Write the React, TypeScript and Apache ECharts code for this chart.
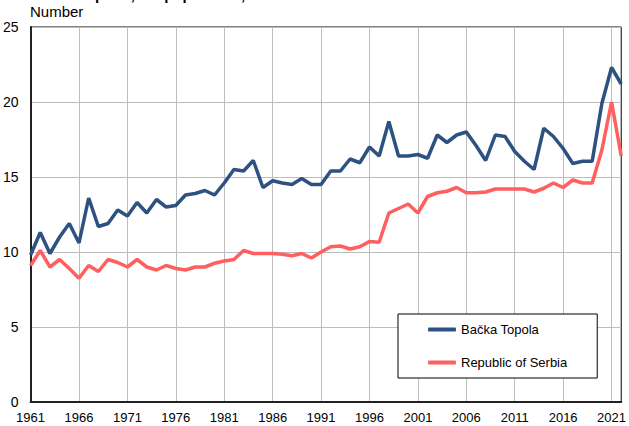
import React, { useEffect, useRef } from "react";
import * as echarts from "echarts";

const years: string[] = [];
for (let y = 1961; y <= 2022; y++) years.push(String(y));

const backaTopola = [
  9.8, 11.3, 9.9, 11.0, 11.9, 10.6, 13.6, 11.7, 11.9, 12.8,
  12.4, 13.3, 12.6, 13.5, 13.0, 13.1, 13.8, 13.9, 14.1, 13.8,
  14.6, 15.5, 15.4, 16.1, 14.3, 14.75, 14.6, 14.5, 14.9, 14.5,
  14.5, 15.4, 15.4, 16.2, 15.95, 17.0, 16.4, 18.7, 16.4, 16.4,
  16.5, 16.25, 17.8, 17.3, 17.8, 18.0, 17.1, 16.1, 17.8, 17.7,
  16.7, 16.05, 15.5, 18.25, 17.7, 16.9, 15.9, 16.05, 16.05, 19.9,
  22.3, 21.2,
];

const serbia = [
  9.1, 10.1, 9.0, 9.5, 8.9, 8.25, 9.1, 8.7, 9.5, 9.3,
  9.0, 9.5, 9.0, 8.8, 9.1, 8.9, 8.8, 9.0, 9.0, 9.25,
  9.4, 9.5, 10.1, 9.9, 9.9, 9.9, 9.85, 9.75, 9.9, 9.6,
  10.0, 10.35, 10.4, 10.2, 10.35, 10.7, 10.65, 12.6, 12.9, 13.2,
  12.6, 13.7, 13.95, 14.05, 14.3, 13.95, 13.95, 14.0, 14.2, 14.2,
  14.2, 14.2, 14.0, 14.25, 14.6, 14.3, 14.8, 14.6, 14.6, 16.8,
  20.0, 16.4,
];

const seriesNames = ["Bačka Topola", "Republic of Serbia"];
const titleText = "Live births per 1,000 population, 1961–2022";
const yUnit = "Number";

const FONT = "'Liberation Sans', Arial, sans-serif";

export default function App() {
  const ref = useRef<HTMLDivElement>(null);
  useEffect(() => {
    if (!ref.current) return;
    const chart = echarts.init(ref.current, null, { renderer: "svg" });
    chart.setOption({
      animation: false,
      backgroundColor: "#ffffff",
      textStyle: { fontFamily: FONT },
      graphic: [
        {
          type: "text",
          left: 15,
          top: -13,
          style: {
            text: titleText,
            font: "bold 15px " + FONT,
            fill: "#000",
          },
        },
        {
          type: "text",
          left: 30,
          top: 4,
          style: { text: yUnit, font: "15px " + FONT, fill: "#000" },
        },
      ],
      grid: {
        left: 30,
        right: 3,
        top: 27,
        bottom: 24,
        show: true,
        borderColor: "#000",
        borderWidth: 1,
        containLabel: false,
      },
      legend: {
        orient: "vertical",
        left: 398,
        top: 314,
        padding: [9, 30, 9, 30],
        itemGap: 20,
        itemWidth: 28,
        itemHeight: 4,
        icon: "roundRect",
        backgroundColor: "#fff",
        borderColor: "#000",
        borderWidth: 1,
        textStyle: { fontFamily: FONT, fontSize: 13, color: "#000" },
        data: seriesNames,
      },
      xAxis: {
        type: "category",
        data: years,
        boundaryGap: false,
        axisLine: { show: true, lineStyle: { color: "#222", width: 2 } },
        axisTick: { show: false },
        axisLabel: {
          interval: 4,
          color: "#000",
          fontSize: 13,
          fontFamily: FONT,
          margin: 9,
        },
        splitLine: {
          show: true,
          interval: 4,
          lineStyle: { color: "#bdbdbd", width: 1 },
        },
      },
      yAxis: {
        type: "value",
        min: 0,
        max: 25,
        interval: 5,
        axisLine: { show: true, lineStyle: { color: "#222", width: 2 } },
        axisTick: { show: false },
        axisLabel: { color: "#000", fontSize: 14, fontFamily: FONT, margin: 12 },
        splitLine: { show: true, lineStyle: { color: "#bdbdbd", width: 1 } },
      },
      series: [
        {
          name: seriesNames[0],
          type: "line",
          data: backaTopola,
          symbol: "none",
          lineStyle: { color: "#2d5281", width: 3.5 },
          itemStyle: { color: "#2d5281" },
        },
        {
          name: seriesNames[1],
          type: "line",
          data: serbia,
          symbol: "none",
          lineStyle: { color: "#ff5f5f", width: 3.5 },
          itemStyle: { color: "#ff5f5f" },
        },
      ],
    });
    return () => chart.dispose();
  }, []);
  return (
    <div
      ref={ref}
      style={{ position: "fixed", left: 0, top: 0, width: 629, height: 426 }}
    />
  );
}
